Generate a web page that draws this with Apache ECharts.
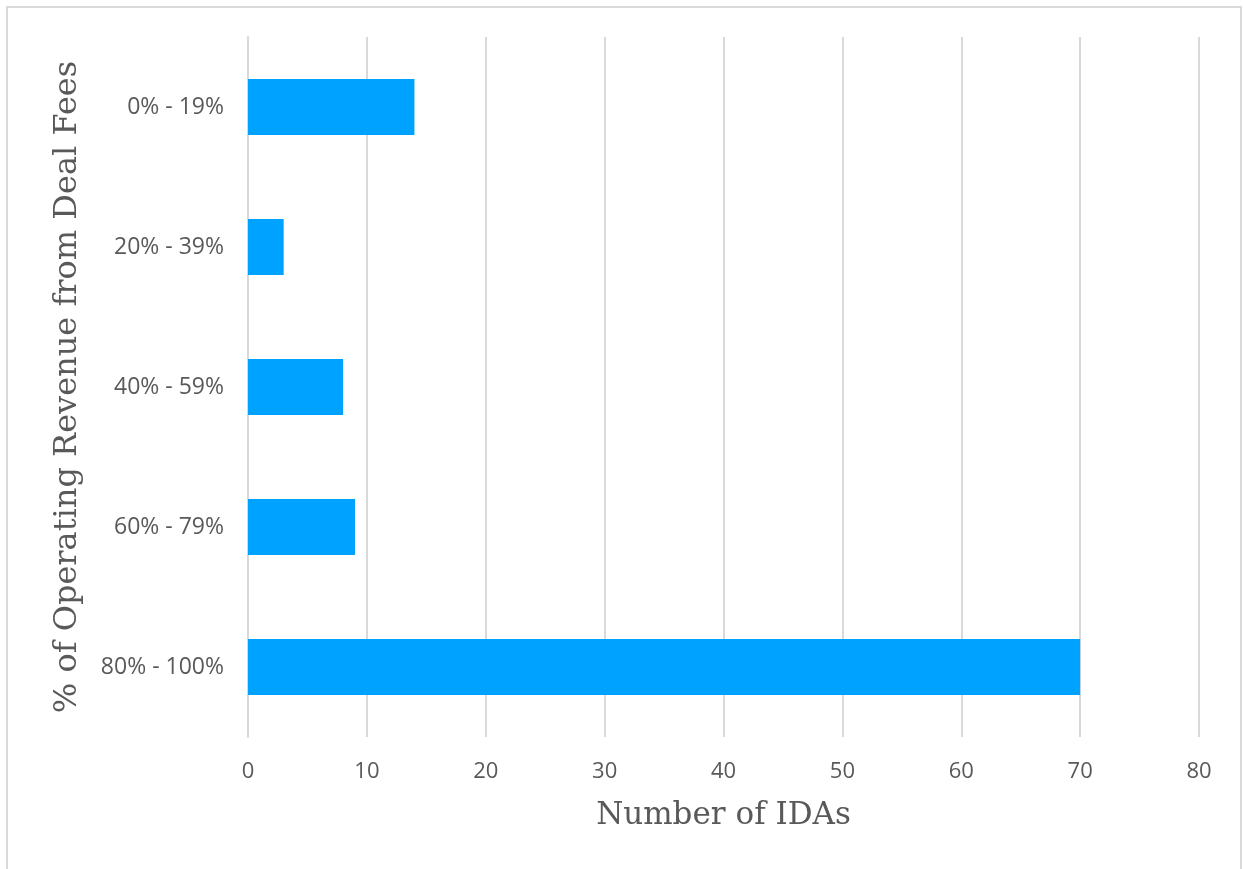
<!DOCTYPE html>
<html>
<head>
<meta charset="utf-8">
<script src="https://cdn.jsdelivr.net/npm/echarts@6/dist/echarts.min.js"></script>
<style>
html,body{margin:0;padding:0;background:#fff;}
#chart{width:1243px;height:869px;}
</style>
</head>
<body>
<div id="chart"></div>
<script>
const categories = ["0% - 19%", "20% - 39%", "40% - 59%", "60% - 79%", "80% - 100%"];
const values = [14, 3, 8, 9, 70];
const xTitle = "Number of IDAs";
const yTitle = "% of Operating Revenue from Deal Fees";

const chart = echarts.init(document.getElementById('chart'));
chart.setOption({
  animation: false,
  backgroundColor: '#ffffff',
  graphic: [{
    type: 'rect',
    shape: {x: 7, y: 7, width: 1234, height: 870},
    style: {fill: 'none', stroke: '#d9d9d9', lineWidth: 2},
    silent: true
  }],
  grid: {left: 248, right: 44, top: 37, bottom: 132, containLabel: false},
  xAxis: {
    type: 'value',
    min: 0, max: 80, interval: 10,
    name: xTitle,
    nameLocation: 'middle',
    nameGap: 63,
    nameTextStyle: {fontFamily: 'DejaVu Serif', fontSize: 31, color: '#595959'},
    axisLine: {show: false},
    axisTick: {show: false},
    axisLabel: {fontFamily: 'Open Sans', fontSize: 22, color: '#595959', margin: 24},
    splitLine: {show: true, lineStyle: {color: '#d9d9d9', width: 2}}
  },
  yAxis: {
    type: 'category',
    data: categories,
    inverse: true,
    name: yTitle,
    nameLocation: 'middle',
    nameGap: 164,
    nameTextStyle: {fontFamily: 'DejaVu Serif', fontSize: 32, color: '#595959'},
    axisLine: {show: true, lineStyle: {color: '#d9d9d9', width: 2}},
    axisTick: {show: false},
    axisLabel: {fontFamily: 'Open Sans', fontSize: 23, color: '#595959', margin: 24},
    splitLine: {show: false}
  },
  series: [{
    type: 'bar',
    data: values,
    barWidth: '40%',
    itemStyle: {color: '#00A2FF'}
  }]
});
</script>
</body>
</html>
